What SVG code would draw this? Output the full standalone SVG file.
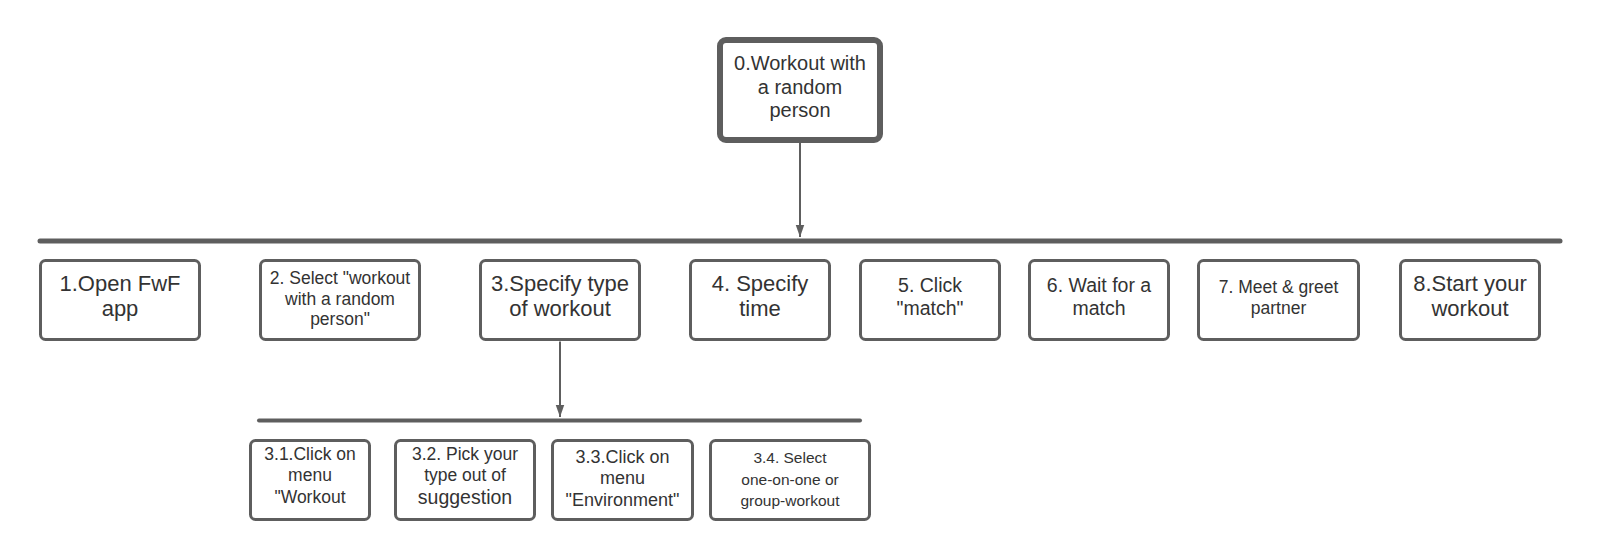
<svg xmlns="http://www.w3.org/2000/svg" width="1600" height="560" viewBox="0 0 1600 560">
<style>
.box{fill:#ffffff;stroke:#5e5e5e;stroke-width:3}
.root{fill:#ffffff;stroke:#5e5e5e;stroke-width:6}
.bar{stroke:#5e5e5e;stroke-linecap:round;fill:none}
.conn{stroke:#5e5e5e;stroke-width:2;fill:none}
text{font-family:"Liberation Sans",Arial,sans-serif;fill:#333333;text-anchor:middle}
</style>
<defs>
<marker id="ah" markerWidth="12" markerHeight="17" refX="17" refY="6" orient="auto" markerUnits="userSpaceOnUse" viewBox="0 0 17 12">
<path d="M0,0 L17,6 L0,12 Z" fill="#5e5e5e"/>
</marker>
</defs>
<rect width="1600" height="560" fill="#ffffff"/>
<g id="connectors">
<line class="bar" x1="40" y1="241" x2="1560" y2="241" stroke-width="5"/>
<line class="bar" x1="259" y1="420.5" x2="860" y2="420.5" stroke-width="4"/>
<line class="conn" x1="800" y1="143" x2="800" y2="237" marker-end="url(#ah)"/>
<line class="conn" x1="560" y1="341.5" x2="560" y2="417" marker-end="url(#ah)"/>
</g>
<g id="n0">
<rect class="root" x="720" y="40" width="160" height="100" rx="6"/>
<text font-size="20"><tspan x="800" y="70">0.Workout with</tspan><tspan x="800" y="94">a random</tspan><tspan x="800" y="117">person</tspan></text>
</g>
<g id="n1">
<rect class="box" x="40.5" y="260.5" width="159" height="79" rx="5"/>
<text font-size="22"><tspan x="120" y="290.5">1.Open FwF</tspan><tspan x="120" y="316">app</tspan></text>
</g>
<g id="n2">
<rect class="box" x="260.5" y="260.5" width="159" height="79" rx="5"/>
<text font-size="17.5"><tspan x="340" y="284">2. Select "workout</tspan><tspan x="340" y="304.5">with a random</tspan><tspan x="340" y="325">person"</tspan></text>
</g>
<g id="n3">
<rect class="box" x="480.5" y="260.5" width="159" height="79" rx="5"/>
<text font-size="22"><tspan x="560" y="290.5">3.Specify type</tspan><tspan x="560" y="316">of workout</tspan></text>
</g>
<g id="n4">
<rect class="box" x="690.5" y="260.5" width="139" height="79" rx="5"/>
<text font-size="22"><tspan x="760" y="290.5">4. Specify</tspan><tspan x="760" y="316">time</tspan></text>
</g>
<g id="n5">
<rect class="box" x="860.5" y="260.5" width="139" height="79" rx="5"/>
<text font-size="19.5"><tspan x="930" y="291.5">5. Click</tspan><tspan x="930" y="315">"match"</tspan></text>
</g>
<g id="n6">
<rect class="box" x="1029.5" y="260.5" width="139" height="79" rx="5"/>
<text font-size="19.5"><tspan x="1099" y="291.5">6. Wait for a</tspan><tspan x="1099" y="315">match</tspan></text>
</g>
<g id="n7">
<rect class="box" x="1198.5" y="260.5" width="160" height="79" rx="5"/>
<text font-size="17.5"><tspan x="1278.5" y="293">7. Meet &amp; greet</tspan><tspan x="1278.5" y="314">partner</tspan></text>
</g>
<g id="n8">
<rect class="box" x="1400.5" y="260.5" width="139" height="79" rx="5"/>
<text font-size="22"><tspan x="1470" y="290.5">8.Start your</tspan><tspan x="1470" y="316">workout</tspan></text>
</g>
<g id="n31">
<rect class="box" x="250.5" y="440.5" width="119" height="79" rx="5"/>
<text font-size="17.5"><tspan x="310" y="459.5">3.1.Click on</tspan><tspan x="310" y="481">menu</tspan><tspan x="310" y="503">"Workout</tspan></text>
</g>
<g id="n32">
<rect class="box" x="395.5" y="440.5" width="139" height="79" rx="5"/>
<text font-size="17.5"><tspan x="465" y="459.5">3.2. Pick your</tspan><tspan x="465" y="481">type out of</tspan></text>
<text font-size="19.5" x="465" y="504">suggestion</text>
</g>
<g id="n33">
<rect class="box" x="552.5" y="440.5" width="140" height="79" rx="5"/>
<text font-size="18"><tspan x="622.5" y="462.5">3.3.Click on</tspan><tspan x="622.5" y="484">menu</tspan><tspan x="622.5" y="506">"Environment"</tspan></text>
</g>
<g id="n34">
<rect class="box" x="710.5" y="440.5" width="159" height="79" rx="5"/>
<text font-size="15.5"><tspan x="790" y="462.5">3.4. Select</tspan><tspan x="790" y="484.5">one-on-one or</tspan><tspan x="790" y="506">group-workout</tspan></text>
</g>
</svg>
